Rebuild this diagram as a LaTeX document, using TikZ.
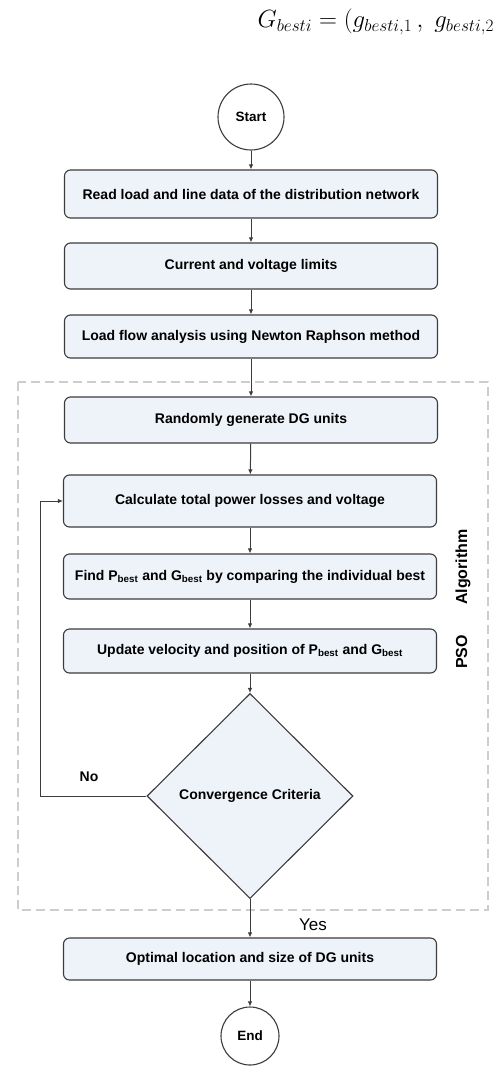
\documentclass[tikz,border=0pt]{standalone}
\usepackage{amsmath}
\usepackage{fontspec}
\setmainfont{Liberation Sans}
\definecolor{fillFlow}{HTML}{EEF3FA}
\definecolor{lineFlow}{HTML}{3C3C3C}
\definecolor{dashFlow}{HTML}{CDCDCD}
\usetikzlibrary{
  positioning,
  shapes.geometric,
  arrows.meta
}

\begin{document}
\begin{tikzpicture}[
    x = 1pt,
    y = -1pt,
    % Process boxes.
    process/.style = {
      draw = lineFlow,
      fill = fillFlow,
      line width = 1.1pt,
      rounded corners = 6pt,
      minimum width = 373pt,
      minimum height = 46pt,
      inner sep = 0pt,
      font = \fontsize{14}{16}\selectfont\bfseries
    },
    % Start and end.
    terminal/.style = {
      circle,
      draw = lineFlow,
      fill = white,
      line width = 1.1pt,
      inner sep = 0pt,
      font = \fontsize{13.5}{16}\selectfont\bfseries
    },
    % Decision.
    decision/.style = {
      diamond,
      draw = lineFlow,
      fill = fillFlow,
      line width = 1.1pt,
      inner sep = 0pt,
      minimum width = 206pt,
      minimum height = 205pt,
      font = \fontsize{14}{16}\selectfont\bfseries
    },
    % Links.
    flow/.style = {
      -{Latex[length = 5pt, width = 4.5pt]},
      draw = lineFlow,
      line width = 1pt
    }
  ]
  \useasboundingbox (0,0) rectangle (496,1066);

  % Formula on top.
  \node[anchor = west, font = \fontsize{26}{28}\selectfont] (gbest) at (254,22)
    {$G_{besti} = (g_{besti,1}\,,\; g_{besti,2}$};

  % PSO frame.
  \draw[dashFlow, line width = 1.5pt, dash pattern = on 9pt off 5pt] (18,382) rectangle (488,910);
  \node[rotate = 90, font = \fontsize{16}{18}\selectfont\bfseries] (psolabel) at (463,599)
    {PSO\hspace{30pt}Algorithm};

  % Nodes.
  \node[terminal, minimum size = 66pt] (start) at (251,117) {Start};
  \node[process, minimum height = 48pt] (read) at (251,194)
    {Read load and line data of the distribution network};
  \node[process] (limits) at (251,266) {Current and voltage limits};
  \node[process, minimum height = 43pt] (loadflow) at (251,336.5)
    {Load flow analysis using Newton Raphson method};
  \node[process] (random) at (251,420) {Randomly generate DG units};
  \node[process, minimum height = 52pt] (calc) at (250,501)
    {Calculate total power losses and voltage};
  \node[process, minimum height = 45pt] (find) at (250,576.5)
    {Find P\textsubscript{best} and G\textsubscript{best} by comparing the individual best};
  \node[process, minimum height = 44pt] (update) at (250,651)
    {Update velocity and position of P\textsubscript{best} and G\textsubscript{best}};
  \node[decision] (crit) at (250,796) {Convergence Criteria};
  \node[process, minimum height = 42pt] (optimal) at (250,959)
    {Optimal location and size of DG units};
  \node[terminal, minimum size = 58pt] (finish) at (250,1036) {End};

  % Labels.
  \node[font = \fontsize{14}{16}\selectfont\bfseries] (no) at (89,777) {No};
  \node[font = \fontsize{17}{19}\selectfont] (yes) at (313,925) {Yes};

  % Links.
  \foreach \a/\b in {start/read, read/limits, limits/loadflow, loadflow/random,
    random/calc, calc/find, find/update, update/crit, crit/optimal, optimal/finish}
    \draw[flow] (\a) -- (\b);

  % Loop back.
  \coordinate (loopx) at (40,0);
  \draw[flow] (crit.west) -- (crit.west -| loopx) |- (calc.west);
\end{tikzpicture}
\end{document}
